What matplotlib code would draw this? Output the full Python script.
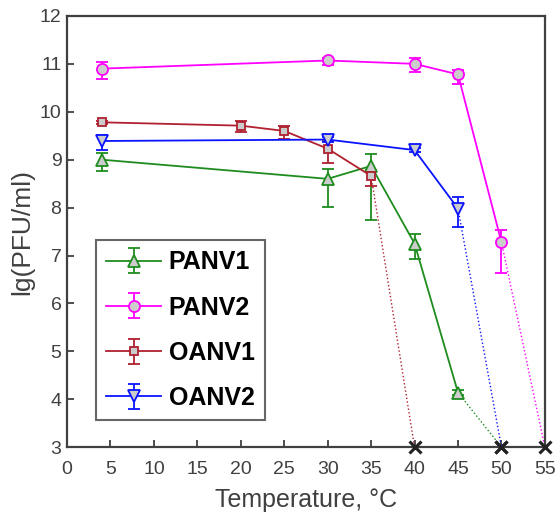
import matplotlib.pyplot as plt
import numpy as np

plt.rcParams['font.family'] = ['Liberation Sans', 'DejaVu Sans']

# temperatures (C) and lg(PFU/ml) with lower / upper error
panv1_t = [4, 30, 35, 40, 45]
panv1_y = [9.0, 8.6, 8.87, 7.25, 4.14]
panv1_lo = [0.24, 0.58, 1.12, 0.32, 0.06]
panv1_hi = [0.13, 0.2, 0.25, 0.19, 0.06]

panv2_t = [4, 30, 40, 45, 50]
panv2_y = [10.9, 11.07, 11.0, 10.78, 7.28]
panv2_lo = [0.22, 0.1, 0.18, 0.2, 0.65]
panv2_hi = [0.13, 0.05, 0.12, 0.1, 0.25]

oanv1_t = [4, 20, 25, 30, 35]
oanv1_y = [9.78, 9.71, 9.6, 9.23, 8.66]
oanv1_lo = [0.03, 0.13, 0.16, 0.3, 0.21]
oanv1_hi = [0.03, 0.09, 0.1, 0.16, 0.12]

oanv2_t = [4, 30, 40, 45]
oanv2_y = [9.39, 9.42, 9.2, 7.98]
oanv2_lo = [0.19, 0.05, 0.04, 0.39]
oanv2_hi = [0.13, 0.05, 0.04, 0.25]

# temperature where no plaques were found (plotted at axis floor)
kill_t = {'PANV1': 50, 'PANV2': 55, 'OANV1': 40, 'OANV2': 50}
floor_y = 3

series = [
    ('PANV1', panv1_t, panv1_y, panv1_lo, panv1_hi, '#1e8c1e', '^', 8.5),
    ('PANV2', panv2_t, panv2_y, panv2_lo, panv2_hi, '#ff00ff', 'o', 8),
    ('OANV1', oanv1_t, oanv1_y, oanv1_lo, oanv1_hi, '#b0202e', 's', 6),
    ('OANV2', oanv2_t, oanv2_y, oanv2_lo, oanv2_hi, '#0a14ff', 'v', 8.5),
]

fig = plt.figure(figsize=(5.56, 5.14), dpi=100)
ax = fig.add_axes([0.1205, 0.130, 0.8595, 0.839])

for name, t, y, lo, hi, col, mk, ms in series:
    # dotted drop to the detection floor
    ax.plot([t[-1], kill_t[name]], [y[-1], floor_y], ':', color=col, lw=1.0, zorder=2)
    ax.errorbar(t, y, yerr=[lo, hi], color=col, marker=mk, markersize=ms,
                markerfacecolor='#cccccc', markeredgecolor=col, markeredgewidth=1.3,
                lw=1.3, elinewidth=1.3, capsize=4.5, capthick=1.3, label=name, zorder=3)

ax.plot(list(kill_t.values()), [floor_y] * len(kill_t), 'x', color='#222222',
        markersize=8, markeredgewidth=2.2, clip_on=False, zorder=5)

ax.set_xlim(0, 55)
ax.set_ylim(3, 12)
ax.set_xticks(np.arange(0, 56, 5))
ax.set_yticks(np.arange(3, 13, 1))
ax.tick_params(direction='in', length=5, width=1.3, labelsize=14, colors='#404040',
               top=False, right=False)
ax.tick_params(axis='x', pad=10)
ax.tick_params(axis='y', pad=4)
for s in ax.spines.values():
    s.set_color('#404040')
    s.set_linewidth(1.6)
ax.set_xlabel('Temperature, °C', fontsize=18, color='#404040', labelpad=7)
ax.set_ylabel('lg(PFU/ml)', fontsize=19, color='#404040', labelpad=4)

leg = ax.legend(loc='lower left', bbox_to_anchor=(0.061, 0.063),
                prop={'weight': 'bold', 'size': 18}, frameon=True, fancybox=False,
                borderaxespad=0, handlelength=2.2, borderpad=0.4, labelspacing=0.85,
                handletextpad=0.3)
leg.get_frame().set_edgecolor('#404040')
leg.get_frame().set_linewidth(1.5)

fig.savefig('out.png', dpi=100)
